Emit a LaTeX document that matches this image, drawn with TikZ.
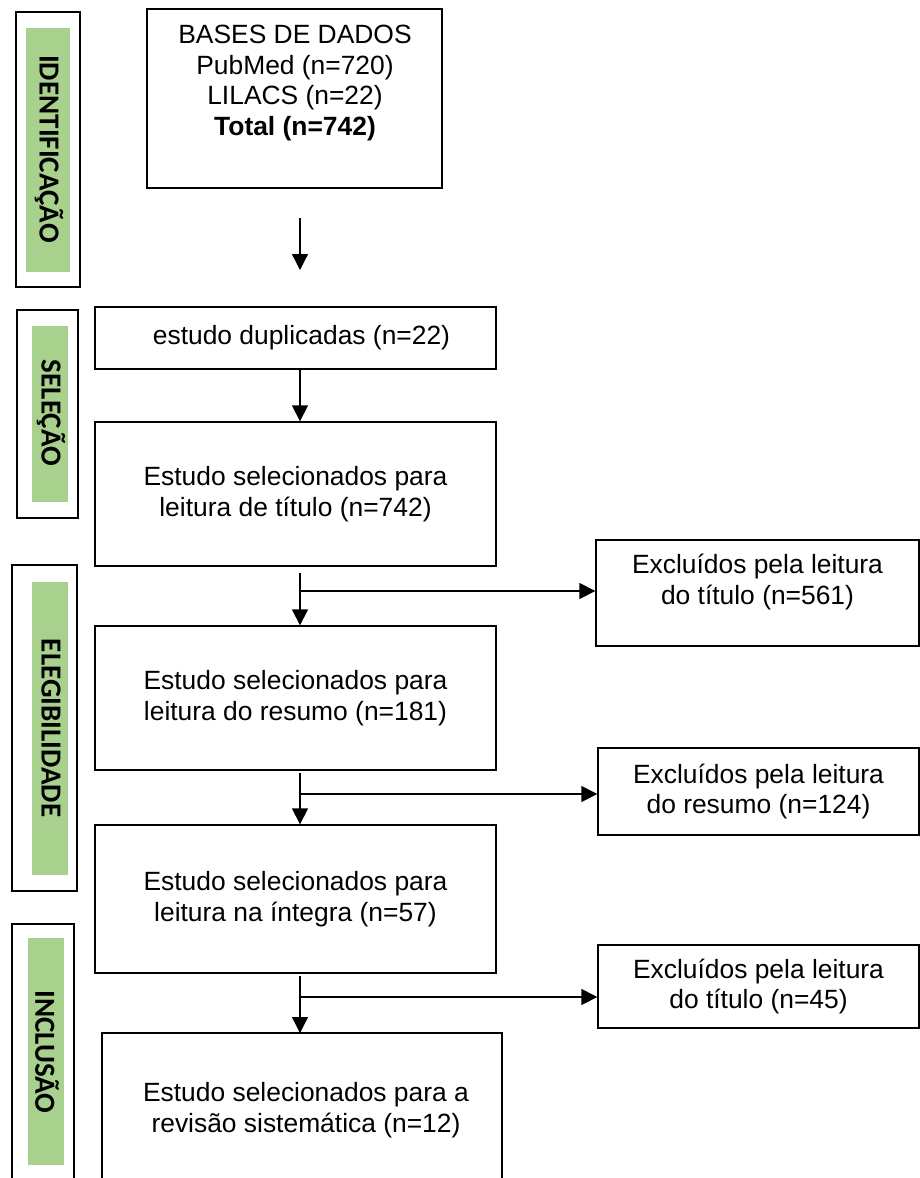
\documentclass[tikz,border=0pt]{standalone}
\usepackage{fontspec}
\setmainfont{Liberation Sans}
\newfontfamily\lblfont{Carlito}
\usetikzlibrary{arrows.meta}
\definecolor{lgreen}{RGB}{169,209,142}
\begin{document}
\begin{tikzpicture}[x=0.75pt,y=-0.75pt,
  box/.style={draw, line width=1pt, rectangle, inner sep=0pt, align=center,
    font=\fontsize{19.8}{22.9}\selectfont},
  txt/.style={font=\fontsize{19.8}{22.9}\selectfont, align=center, inner sep=0pt},
  arr/.style={line width=1pt, -{Triangle[width=12pt,length=12pt]}},
  ln/.style={line width=1pt},
  side/.style={draw, line width=1pt},
  lbl/.style={font=\lblfont\bfseries\fontsize{21.8}{24}\selectfont, rotate=-90, inner sep=0pt}]
\useasboundingbox (0,0) rectangle (920,1178);
\clip (0,0) rectangle (920,1178);
\fill[white] (0,0) rectangle (920,1178);

% side phase labels
\draw[side] (16,12) rectangle (80,287);
\fill[lgreen] (26,28) rectangle (70,272);
\node[lbl] (l1) at (49,149) {IDENTIFICAÇÃO};

\draw[side] (17,310) rectangle (78,518);
\fill[lgreen] (32,326) rectangle (68,502);
\node[lbl] (l2) at (51,413) {SELEÇÃO};

\draw[side] (12,565) rectangle (77,891);
\fill[lgreen] (32,582) rectangle (68,875);
\node[lbl] (l3) at (51,728) {ELEGIBILIDADE};

\draw[side] (12,1190) -- (12,924) -- (74,924) -- (74,1190);
\fill[lgreen] (28,938) rectangle (64,1165);
\node[lbl] (l4) at (47,1052) {INCLUSÃO};

% main boxes
\node[box, minimum width=221.25pt, minimum height=134.25pt] (db) at (294.5,98.5) {};
\node[txt] (dbt) at (295,83) {BASES DE DADOS\\PubMed (n=720)\\LILACS (n=22)\\\textbf{Total (n=742)}};

\node[box, minimum width=300.75pt, minimum height=46.5pt] (dup) at (295.5,338) {\hspace*{9pt}estudo duplicadas (n=22)};
\node[box, minimum width=300.75pt, minimum height=108pt] (tit) at (295.5,494) {Estudo selecionados para\\leitura de título (n=742)};
\node[box, minimum width=300.75pt, minimum height=108pt] (res) at (295.5,698) {Estudo selecionados para\\leitura do resumo (n=181)};
\node[box, minimum width=300.75pt, minimum height=111pt] (int) at (295.5,899) {Estudo selecionados para\\leitura na íntegra (n=57)};

\node[box, minimum width=242.25pt, minimum height=79.5pt] (ex1) at (757.5,593) {};
\node[txt] (ex1t) at (757.5,582) {Excluídos pela leitura\\do título (n=561)};
\node[box, minimum width=240.75pt, minimum height=65.25pt] (ex2) at (758.5,791.5) {Excluídos pela leitura\\do resumo (n=124)};
\node[box, minimum width=240.75pt, minimum height=62.25pt] (ex3) at (758.5,986.5) {Excluídos pela leitura\\do título (n=45)};

\draw[ln] (102,1190) -- (102,1033) -- (502,1033) -- (502,1190);
\coordinate (fin) at (302,1033);
\node[txt] (fint) at (306,1110) {Estudo selecionados para a\\revisão sistemática (n=12)};

% connectors
\coordinate (ax) at (300,0);
\coordinate (a1s) at (300,218);
\coordinate (a1e) at (300,270);
\draw[arr] (a1s) -- (a1e);
\draw[arr] (dup.south -| ax) -- (tit.north -| ax);

\coordinate (a3s) at (300,573);
\coordinate (br1) at (300,591);
\draw[arr] (a3s) -- (res.north -| ax);
\draw[arr] (br1) -- (br1 -| ex1.west);

\coordinate (a4s) at (300,773);
\coordinate (br2) at (300,794);
\draw[arr] (a4s) -- (int.north -| ax);
\draw[arr] (br2) -- (br2 -| ex2.west);

\coordinate (a5s) at (300,976);
\coordinate (br3) at (300,997);
\draw[arr] (a5s) -- (fin -| ax);
\draw[arr] (br3) -- (br3 -| ex3.west);
\end{tikzpicture}
\end{document}
